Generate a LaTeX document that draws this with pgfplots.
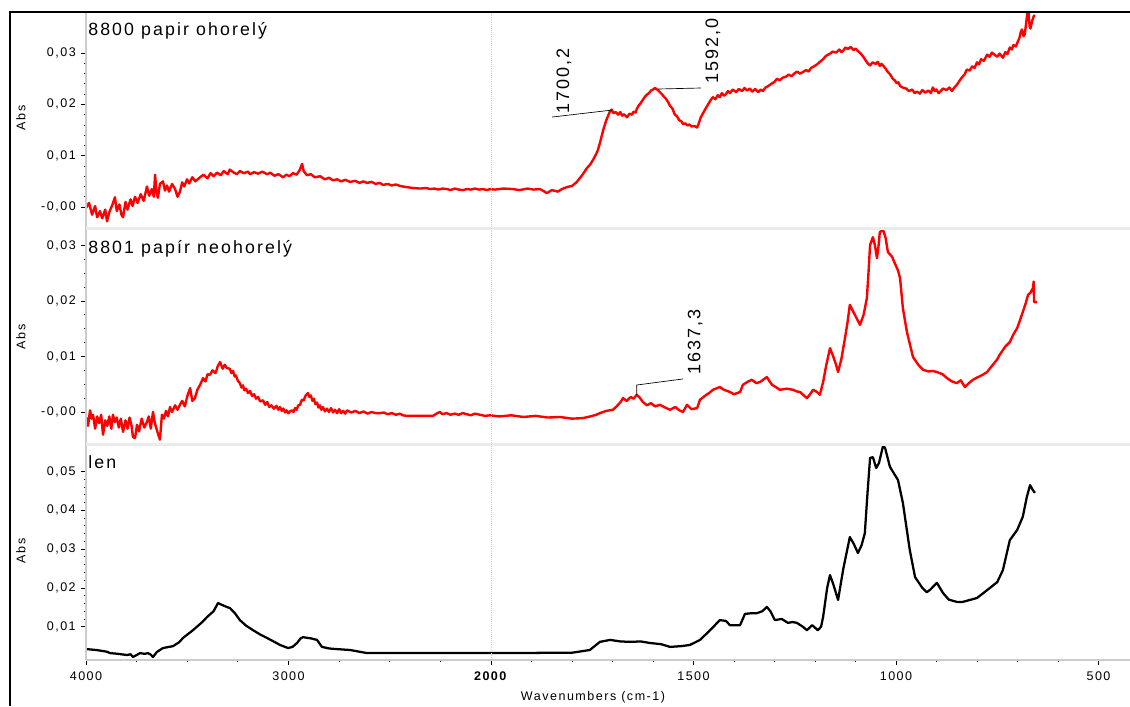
\documentclass[border=0pt]{standalone}
\usepackage{fontspec}
\setmainfont{Liberation Sans}[LetterSpace=12]
\usepackage{pgfplots}
\pgfplotsset{compat=1.18}
\definecolor{sepgray}{gray}{0.92}
\definecolor{axgray}{gray}{0.80}

\pgfplotsset{
 panel/.style={
  scale only axis, width=783pt, height=161.25pt, anchor=north west,
  x coord trafo/.code={\pgfmathparse{(##1>=2000)?((4000-##1)/1000):(2+(2000-##1)/500)}},
  xmin=4000, xmax=422.2,
  axis line style={draw=none},
  ytick pos=left, xtick pos=bottom,
  tick align=outside,
  scaled y ticks=false, scaled x ticks=false,
  major tick length=3.5pt, minor tick length=1.5pt,
  every tick/.style={black, line width=0.6pt},
  tick label style={font=\fontsize{9.4}{11}\selectfont},
  yticklabel style={inner sep=0pt, xshift=-4pt},
  xticklabel style={inner sep=0pt, yshift=-5pt},
  clip=true,
 },
}

\begin{document}
\begin{tikzpicture}
\useasboundingbox (0,0) rectangle (847.5pt,-529.5pt);

% ---------- panel 1 ----------
\begin{axis}[panel, at={(64.5pt,-9.75pt)},
  ymin=-0.00409, ymax=0.03782,
  xtick=\empty,
  ytick={0,0.01,0.02,0.03}, yticklabels={{-0,00},{0,01},{0,02},{0,03}},
  minor y tick num=4]
\addplot[red, line width=1.8pt, line join=round] table {
4000 -0.0002
3985 0.0008
3970 -0.0015
3955 0.0002
3945 -0.0020
3931 -0.0008
3920 -0.0022
3905 -0.0005
3896 -0.0028
3885 -0.0010
3870 0.0004
3857 0.0019
3848 -0.0008
3835 0.0005
3825 -0.0015
3817 -0.0020
3805 0.0010
3795 -0.0005
3780 0.0015
3770 0.0002
3758 0.0020
3745 0.0008
3730 0.0025
3715 0.0012
3699 0.0040
3688 0.0022
3675 0.0035
3665 0.0020
3659 0.0063
3652 0.0030
3645 0.0018
3635 0.0045
3620 0.0050
3610 0.0032
3600 0.0042
3590 0.0030
3575 0.0045
3560 0.0035
3548 0.0020
3536 0.0030
3525 0.0048
3515 0.0040
3501 0.0054
3490 0.0046
3475 0.0058
3460 0.0050
3437 0.0058
3420 0.0063
3400 0.0056
3385 0.0066
3370 0.0060
3353 0.0067
3335 0.0062
3320 0.0070
3300 0.0064
3290 0.0073
3274 0.0068
3255 0.0064
3240 0.0070
3220 0.0066
3200 0.0069
3190 0.0064
3170 0.0068
3150 0.0065
3130 0.0069
3106 0.0064
3090 0.0067
3070 0.0061
3050 0.0064
3027 0.0058
3010 0.0063
2995 0.0060
2978 0.0066
2960 0.0063
2945 0.0072
2933 0.0084
2925 0.0070
2909 0.0062
2890 0.0064
2870 0.0058
2844 0.0060
2820 0.0054
2800 0.0057
2780 0.0052
2760 0.0054
2740 0.0050
2720 0.0053
2696 0.0049
2670 0.0051
2650 0.0047
2630 0.0050
2612 0.0047
2590 0.0049
2570 0.0045
2550 0.0047
2533 0.0043
2510 0.0045
2490 0.0042
2470 0.0044
2449 0.0041
2420 0.0039
2385 0.0037
2350 0.0036
2320 0.0037
2301 0.0035
2280 0.0036
2260 0.0034
2240 0.0036
2217 0.0035
2200 0.0033
2180 0.0036
2160 0.0034
2138 0.0033
2120 0.0035
2100 0.0034
2080 0.0036
2060 0.0034
2040 0.0035
2020 0.0033
2005 0.0035
1990 0.0034
1970 0.0036
1946 0.0035
1930 0.0033
1910 0.0036
1895 0.0034
1879 0.0035
1870 0.0031
1862 0.0027
1850 0.0033
1835 0.0030
1825 0.0035
1812 0.0039
1800 0.0041
1788 0.0049
1775 0.0062
1763 0.0076
1755 0.0083
1748 0.0092
1740 0.0104
1736 0.0111
1730 0.0128
1723 0.0150
1715 0.0170
1706 0.0187
1702 0.0190
1698 0.0183
1692 0.0185
1686 0.0180
1681 0.0185
1676 0.0178
1672 0.0181
1664 0.0175
1658 0.0182
1652 0.0180
1648 0.0186
1643 0.0184
1640 0.0191
1636 0.0197
1630 0.0203
1625 0.0209
1620 0.0215
1615 0.0219
1610 0.0222
1605 0.0227
1600 0.0229
1595 0.0232
1592 0.0230
1588 0.0228
1583 0.0224
1578 0.0220
1573 0.0215
1568 0.0211
1563 0.0205
1558 0.0197
1552 0.0192
1546 0.0180
1541 0.0177
1535 0.0169
1530 0.0167
1526 0.0162
1520 0.0163
1515 0.0159
1510 0.0161
1505 0.0157
1498 0.0158
1491 0.0155
1487 0.0163
1482 0.0175
1477 0.0182
1470 0.0192
1464 0.0200
1458 0.0208
1452 0.0214
1446 0.0210
1440 0.0218
1435 0.0214
1430 0.0222
1425 0.0217
1420 0.0220
1415 0.0226
1410 0.0222
1403 0.0229
1395 0.0224
1388 0.0230
1380 0.0226
1374 0.0232
1368 0.0227
1361 0.0231
1355 0.0225
1348 0.0230
1340 0.0224
1334 0.0229
1329 0.0226
1322 0.0233
1315 0.0236
1308 0.0240
1300 0.0244
1294 0.0250
1287 0.0247
1280 0.0252
1272 0.0254
1265 0.0258
1258 0.0255
1250 0.0261
1244 0.0264
1237 0.0260
1230 0.0263
1222 0.0267
1216 0.0264
1210 0.0271
1203 0.0274
1195 0.0278
1188 0.0283
1180 0.0288
1175 0.0293
1170 0.0296
1163 0.0299
1156 0.0303
1148 0.0301
1140 0.0307
1135 0.0302
1130 0.0305
1125 0.0311
1119 0.0308
1112 0.0312
1105 0.0306
1100 0.0309
1094 0.0304
1087 0.0299
1080 0.0292
1075 0.0286
1070 0.0280
1064 0.0276
1058 0.0282
1050 0.0279
1045 0.0283
1040 0.0275
1036 0.0279
1032 0.0276
1026 0.0270
1020 0.0263
1014 0.0258
1008 0.0250
1003 0.0247
998 0.0241
994 0.0243
990 0.0236
984 0.0233
975 0.0231
968 0.0226
960 0.0229
954 0.0222
948 0.0225
941 0.0221
935 0.0228
928 0.0223
920 0.0227
914 0.0222
909 0.0233
904 0.0226
900 0.0229
895 0.0222
891 0.0225
884 0.0231
875 0.0228
868 0.0233
862 0.0226
856 0.0233
850 0.0238
844 0.0245
838 0.0252
831 0.0258
825 0.0268
818 0.0266
812 0.0274
806 0.0271
800 0.0282
795 0.0278
790 0.0288
783 0.0285
775 0.0297
769 0.0293
763 0.0301
757 0.0297
750 0.0293
744 0.0299
736 0.0291
730 0.0302
725 0.0298
719 0.0311
714 0.0307
710 0.0316
704 0.0313
699 0.0323
695 0.0330
692 0.0341
689 0.0346
685 0.0333
682 0.0337
678 0.0362
674 0.0390
670 0.0352
668 0.0348
664 0.0362
660 0.0372
657 0.0374
};
\draw[black, line width=0.5pt] (axis cs:1849,0.01754) -- (axis cs:1701,0.0189);
\draw[black, line width=0.5pt] (axis cs:1588,0.0230) -- (axis cs:1482,0.0232);
\node[rotate=90, font=\fontsize{13.5}{15}\selectfont, inner sep=0pt] at (axis cs:1820,0.02456) {1700,2};
\node[rotate=90, font=\fontsize{13.5}{15}\selectfont, inner sep=0pt] at (axis cs:1452,0.0304) {1592,0};
\end{axis}

% ---------- panel 2 ----------
\begin{axis}[panel, at={(64.5pt,-171.75pt)},
  ymin=-0.00577, ymax=0.03297,
  xtick=\empty,
  ytick={0,0.01,0.02,0.03}, yticklabels={{-0,00},{0,01},{0,02},{0,03}},
  minor y tick num=3]
\addplot[red, line width=1.8pt, line join=round] table {
3998 -0.0010
3990 -0.0025
3980 0.0003
3972 -0.0012
3965 -0.0005
3955 -0.0030
3945 -0.0008
3935 -0.0020
3925 -0.0005
3916 -0.0041
3905 -0.0015
3895 -0.0025
3885 -0.0008
3875 -0.0030
3867 -0.0005
3858 -0.0018
3848 -0.0010
3838 -0.0028
3828 -0.0012
3817 -0.0036
3805 -0.0015
3795 -0.0030
3785 -0.0010
3775 -0.0025
3768 -0.0045
3758 -0.0047
3748 -0.0023
3738 -0.0035
3725 -0.0012
3712 -0.0028
3699 -0.0018
3690 -0.0008
3680 -0.0030
3669 0.0000
3660 -0.0020
3648 -0.0035
3635 -0.0050
3625 -0.0005
3615 -0.0012
3605 0.0002
3595 -0.0008
3585 0.0009
3575 0.0000
3560 0.0012
3548 0.0004
3536 0.0013
3525 0.0020
3512 0.0010
3500 0.0028
3486 0.0043
3475 0.0020
3462 0.0025
3450 0.0040
3435 0.0050
3422 0.0061
3410 0.0055
3400 0.0068
3388 0.0067
3375 0.0075
3360 0.0070
3350 0.0082
3338 0.0090
3325 0.0078
3315 0.0085
3304 0.0079
3290 0.0078
3282 0.0070
3274 0.0074
3266 0.0064
3260 0.0066
3250 0.0056
3240 0.0052
3232 0.0044
3225 0.0048
3218 0.0039
3210 0.0042
3200 0.0034
3190 0.0038
3180 0.0029
3170 0.0032
3160 0.0024
3150 0.0027
3140 0.0019
3126 0.0021
3115 0.0013
3105 0.0018
3095 0.0009
3085 0.0012
3072 0.0006
3060 0.0011
3050 0.0004
3042 0.0009
3033 0.0002
3025 0.0006
3017 -0.0001
3010 0.0003
3000 -0.0002
2993 0.0001
2984 0.0003
2975 0.0000
2968 0.0007
2960 0.0004
2952 0.0012
2943 0.0013
2934 0.0022
2925 0.0021
2915 0.0030
2904 0.0034
2897 0.0027
2890 0.0030
2882 0.0020
2875 0.0024
2867 0.0014
2859 0.0017
2852 0.0008
2845 0.0012
2838 0.0004
2830 0.0009
2820 0.0001
2810 0.0006
2800 0.0000
2790 0.0007
2780 -0.0001
2770 0.0004
2760 -0.0002
2750 0.0005
2740 -0.0002
2730 0.0002
2720 -0.0003
2711 0.0003
2690 -0.0001
2670 0.0002
2650 -0.0002
2630 0.0001
2610 -0.0003
2590 0.0000
2570 -0.0002
2548 -0.0002
2530 -0.0001
2510 -0.0004
2490 -0.0002
2470 -0.0005
2450 -0.0003
2435 -0.0006
2415 -0.0007
2380 -0.0007
2340 -0.0007
2300 -0.0007
2286 -0.0007
2270 -0.0003
2252 0.0000
2240 -0.0004
2220 -0.0002
2200 -0.0005
2180 -0.0003
2160 -0.0005
2140 -0.0002
2120 -0.0004
2100 -0.0006
2080 -0.0003
2054 -0.0005
2030 -0.0007
2005 -0.0006
1980 -0.0008
1950 -0.0006
1920 -0.0009
1890 -0.0007
1860 -0.0010
1830 -0.0009
1800 -0.0012
1773 -0.0011
1755 -0.0008
1740 -0.0005
1731 -0.0002
1715 0.0002
1699 0.0004
1690 0.0010
1680 0.0018
1674 0.0025
1665 0.0020
1655 0.0027
1648 0.0024
1640 0.0031
1633 0.0026
1625 0.0018
1615 0.0012
1605 0.0016
1595 0.0010
1583 0.0013
1570 0.0008
1558 0.0004
1545 0.0009
1535 0.0003
1526 0.0000
1516 0.0013
1505 0.0005
1491 0.0007
1484 0.0022
1470 0.0030
1460 0.0035
1452 0.0040
1435 0.0045
1425 0.0040
1410 0.0036
1400 0.0032
1385 0.0036
1378 0.0049
1365 0.0055
1356 0.0058
1345 0.0052
1336 0.0054
1328 0.0058
1319 0.0063
1312 0.0055
1306 0.0049
1295 0.0044
1287 0.0040
1270 0.0042
1254 0.0040
1245 0.0037
1237 0.0036
1228 0.0030
1220 0.0025
1212 0.0032
1205 0.0040
1195 0.0036
1188 0.0031
1180 0.0054
1172 0.0085
1163 0.0115
1155 0.0100
1148 0.0085
1143 0.0072
1135 0.0095
1126 0.0133
1120 0.0160
1114 0.0193
1105 0.0180
1098 0.0170
1089 0.0157
1080 0.0175
1072 0.0205
1068 0.0250
1064 0.0301
1057 0.0315
1052 0.0300
1047 0.0277
1043 0.0300
1040 0.0324
1032 0.0328
1026 0.0315
1020 0.0288
1010 0.0280
1003 0.0268
995 0.0255
990 0.0241
983 0.0187
973 0.0144
965 0.0120
958 0.0099
945 0.0085
933 0.0076
920 0.0073
910 0.0074
899 0.0072
885 0.0068
874 0.0061
862 0.0055
850 0.0052
840 0.0057
830 0.0045
820 0.0052
810 0.0058
800 0.0062
786 0.0067
775 0.0072
761 0.0085
750 0.0095
744 0.0103
730 0.0118
719 0.0126
710 0.0140
701 0.0151
694 0.0165
687 0.0180
680 0.0195
674 0.0211
668 0.0215
662 0.0223
660 0.0235
659 0.0198
652 0.0198
};
\draw[black, line width=0.5pt] (axis cs:1640,0.00306) -- (axis cs:1640,0.00486) -- (axis cs:1526,0.00595);
\node[rotate=90, font=\fontsize{13.5}{15}\selectfont, inner sep=0pt] at (axis cs:1496,0.0126) {1637,3};
\end{axis}

% ---------- panel 3 ----------
\begin{axis}[panel, at={(64.5pt,-333.75pt)},
  ymin=0.00142, ymax=0.05683,
  xtick={4000,3000,2000,1500,1000,500},
  xticklabels={4000,3000,\textbf{2000},1500,1000,500},
  minor xtick={3750,3500,3250,2750,2500,2250,1900,1800,1700,1600,1400,1300,1200,1100,900,800,700,600},
  ytick={0.01,0.02,0.03,0.04,0.05}, yticklabels={{0,01},{0,02},{0,03},{0,04},{0,05}},
  minor y tick num=4]
\addplot[black, line width=1.7pt, line join=round] table {
4000 0.00425
3950 0.0040
3900 0.0036
3881 0.0032
3840 0.0030
3798 0.0027
3780 0.0029
3768 0.0022
3750 0.0027
3733 0.0032
3710 0.0030
3694 0.0032
3680 0.0028
3669 0.0022
3650 0.0035
3620 0.0045
3570 0.0050
3540 0.0060
3521 0.0071
3472 0.0091
3430 0.0110
3402 0.0125
3370 0.0140
3348 0.0161
3328 0.0156
3300 0.0150
3289 0.0148
3265 0.0135
3240 0.0117
3210 0.0103
3175 0.0091
3140 0.0080
3106 0.0071
3070 0.0061
3042 0.0053
3002 0.0045
2980 0.0048
2958 0.0058
2940 0.0070
2928 0.0073
2890 0.0070
2859 0.0066
2835 0.0048
2800 0.0044
2780 0.0043
2696 0.0040
2612 0.0032
2449 0.0032
2300 0.0032
2005 0.0032
1800 0.0033
1756 0.0040
1731 0.0061
1706 0.0066
1680 0.0062
1657 0.0061
1630 0.0062
1607 0.0058
1580 0.0055
1558 0.0048
1530 0.0050
1509 0.0053
1484 0.0066
1459 0.0091
1435 0.0117
1420 0.0115
1410 0.0104
1385 0.0104
1373 0.0133
1355 0.0135
1343 0.0135
1330 0.0140
1319 0.0151
1310 0.0140
1299 0.0117
1282 0.0120
1267 0.0110
1255 0.0112
1245 0.0110
1230 0.0100
1220 0.0091
1207 0.0104
1193 0.0091
1185 0.0100
1180 0.0125
1170 0.0200
1163 0.0233
1155 0.0210
1143 0.0169
1130 0.0250
1114 0.0331
1105 0.0315
1094 0.0290
1085 0.0310
1077 0.0341
1070 0.0450
1064 0.0535
1057 0.0537
1049 0.0509
1042 0.0522
1032 0.0566
1027 0.0561
1015 0.0512
995 0.0478
983 0.0419
966 0.0298
953 0.0228
935 0.0200
924 0.0189
916 0.0195
899 0.0213
884 0.0187
870 0.0170
850 0.0164
835 0.0164
800 0.0174
768 0.0200
750 0.0215
736 0.0246
719 0.0323
701 0.0349
687 0.0383
677 0.0434
669 0.0465
662 0.0452
657 0.0445
};
\end{axis}

% ---------- frame, separators, labels ----------
\draw[axgray, line width=2pt] (64.5pt,-9.75pt) -- (64.5pt,-495pt);
\draw[sepgray, line width=2.2pt] (64.5pt,-171.4pt) -- (847.5pt,-171.4pt);
\draw[sepgray, line width=2.2pt] (64.5pt,-333.4pt) -- (847.5pt,-333.4pt);
\draw[axgray, line width=1.6pt] (64.5pt,-495pt) -- (847.5pt,-495pt);
\draw[gray!40, densely dotted, line width=0.6pt] (368.25pt,-9.75pt) -- (368.25pt,-495pt);
\draw[black, line width=1.4pt] (7.5pt,-529.5pt) -- (7.5pt,-9pt) -- (847.5pt,-9pt);

\node[anchor=base west, inner sep=0pt, font=\fontsize{13.3}{15}\selectfont] at (66pt,-27pt) {8800 papir ohorelý};
\node[anchor=base west, inner sep=0pt, font=\fontsize{13.3}{15}\selectfont] at (66pt,-189.75pt) {8801 papír neohorelý};
\node[anchor=base west, inner sep=0pt, font=\fontsize{13.3}{15}\selectfont] at (66pt,-351pt) {len};

\node[rotate=90, inner sep=0pt, font=\fontsize{9.4}{11}\selectfont] at (15.75pt,-88.5pt) {Abs};
\node[rotate=90, inner sep=0pt, font=\fontsize{9.4}{11}\selectfont] at (15.75pt,-252.75pt) {Abs};
\node[rotate=90, inner sep=0pt, font=\fontsize{9.4}{11}\selectfont] at (15.75pt,-413.25pt) {Abs};
\node[inner sep=0pt, font=\fontsize{9.4}{11}\selectfont] at (444.75pt,-522.75pt) {Wavenumbers (cm-1)};
\end{tikzpicture}
\end{document}
